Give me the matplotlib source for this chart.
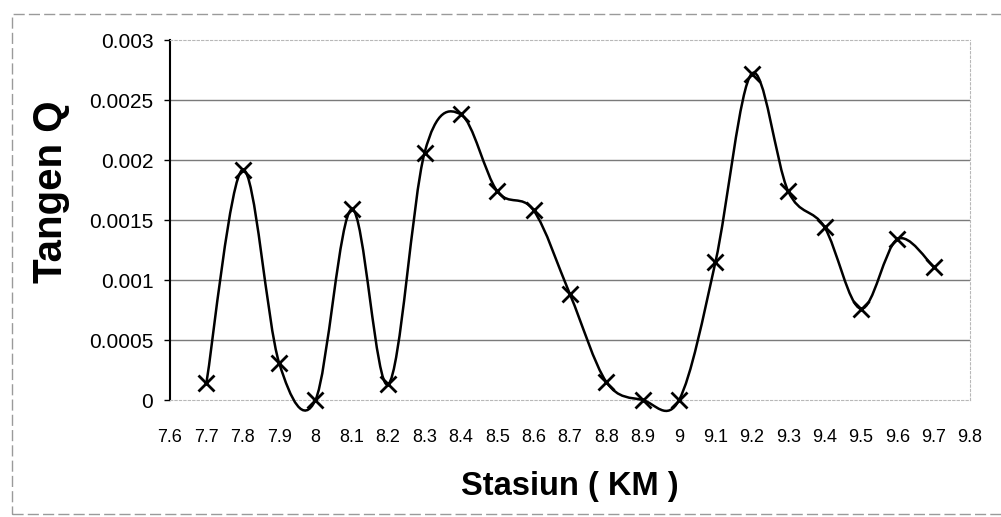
import numpy as np
import matplotlib
matplotlib.use('Agg')
import matplotlib.pyplot as plt
from matplotlib.path import Path
from matplotlib.patches import PathPatch, Rectangle

plt.rcParams['font.family'] = ['Liberation Sans', 'DejaVu Sans']

# Data
stasiun = [7.7, 7.8, 7.9, 8.0, 8.1, 8.2, 8.3, 8.4, 8.5, 8.6, 8.7,
           8.8, 8.9, 9.0, 9.1, 9.2, 9.3, 9.4, 9.5, 9.6, 9.7]
tangen_q = [0.00014, 0.00192, 0.00031, 0.0, 0.00159, 0.00013, 0.00206,
            0.00238, 0.00174, 0.00158, 0.00088, 0.00015, 0.0, 0.0,
            0.00115, 0.00272, 0.00174, 0.00144, 0.00076, 0.00134, 0.00111]
x_ticks = [7.6, 7.7, 7.8, 7.9, 8.0, 8.1, 8.2, 8.3, 8.4, 8.5, 8.6, 8.7,
           8.8, 8.9, 9.0, 9.1, 9.2, 9.3, 9.4, 9.5, 9.6, 9.7, 9.8]
x_labels = ['7.6', '7.7', '7.8', '7.9', '8', '8.1', '8.2', '8.3', '8.4', '8.5',
            '8.6', '8.7', '8.8', '8.9', '9', '9.1', '9.2', '9.3', '9.4', '9.5',
            '9.6', '9.7', '9.8']
y_ticks = [0, 0.0005, 0.001, 0.0015, 0.002, 0.0025, 0.003]
y_labels = ['0', '0.0005', '0.001', '0.0015', '0.002', '0.0025', '0.003']


def smooth_path(xs, ys):
    # Excel-style smoothed line: cubic Bezier segments (Catmull-Rom)
    pts = np.column_stack([xs, ys])
    ext = np.vstack([pts[0], pts, pts[-1]])
    verts = [tuple(pts[0])]
    codes = [Path.MOVETO]
    for i in range(1, len(ext) - 2):
        p0, p1, p2, p3 = ext[i - 1], ext[i], ext[i + 1], ext[i + 2]
        c1 = p1 + (p2 - p0) / 6.0
        c2 = p2 - (p3 - p1) / 6.0
        verts += [tuple(c1), tuple(c2), tuple(p2)]
        codes += [Path.CURVE4] * 3
    return Path(verts, codes)


fig = plt.figure(figsize=(10.01, 5.17), dpi=100)
fig.patch.set_facecolor('white')

# outer chart border
fig.patches.append(Rectangle((12 / 1001, 3 / 517), 1.0, 1 - 17 / 517,
                             transform=fig.transFigure, fill=False,
                             edgecolor='#9a9a9a', linewidth=1.0,
                             linestyle=(0, (8, 3))))

ax = fig.add_axes([170 / 1001, 1 - 400 / 517, 800 / 1001, 360 / 517])
ax.set_xlim(7.6, 9.8)
ax.set_ylim(0, 0.003)

for yv in y_ticks[1:-1]:
    ax.axhline(yv, color='#7a7a7a', linewidth=1.0, zorder=1)

ax.add_patch(PathPatch(smooth_path(stasiun, tangen_q), facecolor='none',
                       edgecolor='black', linewidth=1.8, zorder=3,
                       clip_on=False))
ax.plot(stasiun, tangen_q, linestyle='none', marker='x', markersize=12,
        markeredgewidth=2.0, color='black', zorder=4, clip_on=False)

ax.set_xticks(x_ticks)
ax.set_xticklabels(x_labels, fontsize=13)
ax.set_yticks(y_ticks)
ax.set_yticklabels(y_labels, fontsize=15)
ax.tick_params(axis='x', length=0, pad=21)
ax.tick_params(axis='y', length=4, width=1, pad=8)

for side in ['top', 'right', 'bottom']:
    ax.spines[side].set_color('#b8b8b8')
    ax.spines[side].set_linestyle((0, (2, 2)))
    ax.spines[side].set_linewidth(0.8)
ax.spines['left'].set_color('black')
ax.spines['left'].set_linewidth(1.5)

ax.set_xlabel('Stasiun ( KM )', fontsize=23.5, fontweight='bold', labelpad=18)
ax.set_ylabel('Tangen Q', fontsize=29, fontweight='bold', va='center')
ax.yaxis.set_label_coords(-0.149, 0.58)

fig.savefig('out.png', dpi=100, facecolor='white')
